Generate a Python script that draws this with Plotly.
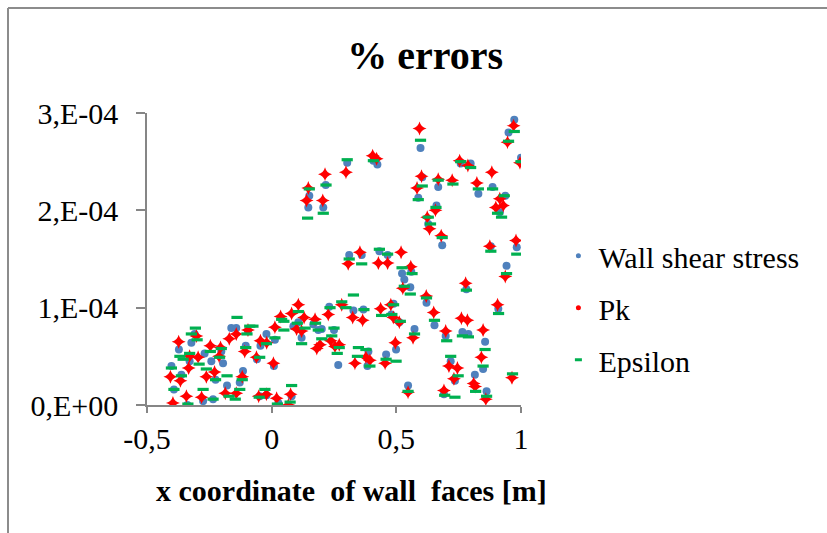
import plotly.graph_objects as go

# ---------------- data ----------------
wss_x = [-0.402, -0.372, -0.392, -0.362, -0.338, -0.329, -0.322, -0.309, -0.269, -0.242, -0.225, -0.275, -0.235,
         -0.202, -0.195, -0.179, -0.162, -0.142, -0.128, -0.115, -0.104, -0.095, -0.059, -0.045, -0.021, -0.021, -0.048,
         0.013, 0.009, 0.027, 0.080, 0.087, 0.107, 0.120, 0.147, 0.151, 0.167, 0.187, 0.201, 0.207, 0.217, 0.231, 0.250,
         0.267, 0.303, 0.311, 0.328, 0.361, 0.368, 0.388, 0.384, 0.408, 0.424, 0.432, 0.459, 0.465,
         0.597, 0.523, 0.532, 0.556, 0.560, 0.489, 0.480, 0.512, 0.499, 0.547, 0.573, 0.604, 0.588, 0.621, 0.628, 0.661,
         0.653, 0.684, 0.668, 0.698, 0.718, 0.735, 0.758, 0.798, 0.765, 0.789, 0.781, 0.829, 0.815, 0.848, 0.856, 0.862,
         0.886, 0.879, 0.909, 0.937, 0.915, 0.942, 0.973, 0.950, 1.000, 0.983, 0.691]
wss_y = [0.40e-4, 0.57e-4, 0.16e-4, 0.31e-4, 0.00e-4, 0.45e-4, 0.64e-4, 0.73e-4, 0.53e-4, 0.45e-4, 0.26e-4, 0.04e-4, 0.06e-4,
         0.55e-4, 0.43e-4, 0.20e-4, 0.79e-4, 0.79e-4, 0.23e-4, 0.35e-4, 0.61e-4, 0.76e-4, 0.47e-4, 0.61e-4, 0.73e-4, 0.10e-4, 0.09e-4,
         0.67e-4, 0.40e-4, 0.02e-4, 0.09e-4, 0.81e-4, 0.85e-4, 0.69e-4, 2.03e-4, 2.15e-4, 0.83e-4, 0.77e-4, 0.78e-4, 2.03e-4, 2.26e-4, 1.01e-4, 0.77e-4,
         0.41e-4, 2.49e-4, 1.54e-4, 0.97e-4, 1.54e-4, 0.98e-4, 0.55e-4, 0.40e-4, 2.51e-4, 2.47e-4, 1.58e-4, 0.52e-4, 1.54e-4,
         2.64e-4, 1.35e-4, 1.29e-4, 1.21e-4, 1.37e-4, 1.04e-4, 0.93e-4, 0.85e-4, 0.57e-4, 0.20e-4, 0.78e-4, 2.34e-4, 2.13e-4, 1.05e-4, 1.86e-4, 2.05e-4,
         0.82e-4, 1.64e-4, 2.24e-4, 0.71e-4, 0.45e-4, 0.25e-4, 2.48e-4, 2.48e-4, 0.75e-4, 0.73e-4, 1.19e-4, 2.17e-4, 0.31e-4, 0.37e-4, 0.65e-4, 0.14e-4,
         2.24e-4, 1.63e-4, 0.99e-4, 2.15e-4, 1.98e-4, 1.43e-4, 2.93e-4, 2.80e-4, 2.54e-4, 1.62e-4, 0.11e-4]

pk_x = [-0.373, -0.406, -0.366, -0.396, -0.342, -0.333, -0.302, -0.295, -0.329, -0.281, -0.262, -0.246, -0.229, -0.211,
        -0.205, -0.186, -0.170, -0.142, -0.142, -0.118, -0.108, -0.095, -0.061, -0.045, -0.052, -0.021,
        0.007, 0.013, 0.036, -0.020, 0.020, 0.067, 0.076, 0.080, 0.107, 0.100, 0.120, 0.130, 0.140, 0.147, 0.174, 0.181,
        0.194, 0.205, 0.214, 0.227, 0.237, 0.254, 0.271, 0.281, 0.298, 0.307, 0.325, 0.334, 0.354, 0.365, 0.378, 0.394,
        0.405, 0.421, 0.428, 0.437, 0.455, 0.465,
        0.593, 0.519, 0.558, 0.526, 0.478, 0.488, 0.512, 0.496, 0.567, 0.547, 0.601, 0.583, 0.620, 0.624, 0.633, 0.650,
        0.657, 0.668, 0.680, 0.698, 0.711, 0.724, 0.731, 0.745, 0.691, 0.754, 0.761, 0.785, 0.778, 0.787, 0.823, 0.810,
        0.816, 0.841, 0.848, 0.859, 0.883, 0.875, 0.906, 0.899, 0.915, 0.929, 0.937, 0.946, 0.970, 0.980, 0.996, 0.964]
pk_y = [0.65e-4, 0.29e-4, 0.25e-4, 0.02e-4, 0.09e-4, 0.38e-4, 0.71e-4, 0.49e-4, 0.50e-4, 0.08e-4, 0.29e-4, 0.61e-4, 0.34e-4, 0.50e-4,
        0.59e-4, 0.12e-4, 0.68e-4, 0.73e-4, 0.12e-4, 0.29e-4, 0.55e-4, 0.77e-4, 0.49e-4, 0.66e-4, 0.09e-4, 0.11e-4,
        0.43e-4, 0.80e-4, 0.91e-4, 0.64e-4, 0.07e-4, 0.00e-4, 0.11e-4, 0.94e-4, 1.03e-4, 0.78e-4, 0.76e-4, 0.90e-4, 2.10e-4, 2.23e-4, 0.88e-4, 0.58e-4,
        0.62e-4, 2.10e-4, 2.37e-4, 0.93e-4, 0.66e-4, 0.60e-4, 0.62e-4, 1.03e-4, 2.39e-4, 1.45e-4, 0.90e-4, 0.43e-4, 1.57e-4, 0.87e-4, 0.49e-4, 0.46e-4,
        2.56e-4, 2.53e-4, 1.46e-4, 0.99e-4, 0.43e-4, 1.46e-4,
        2.84e-4, 1.57e-4, 1.42e-4, 1.20e-4, 1.03e-4, 0.90e-4, 0.85e-4, 0.64e-4, 0.69e-4, 0.13e-4, 2.35e-4, 2.23e-4, 1.12e-4, 1.93e-4, 1.81e-4, 0.95e-4,
        2.00e-4, 2.32e-4, 1.74e-4, 0.76e-4, 0.40e-4, 2.31e-4, 0.27e-4, 0.38e-4, 0.15e-4, 2.51e-4, 0.89e-4, 0.87e-4, 1.25e-4, 2.46e-4, 2.28e-4, 0.22e-4,
        0.19e-4, 0.49e-4, 0.77e-4, 0.06e-4, 2.39e-4, 1.63e-4, 1.03e-4, 2.03e-4, 2.12e-4, 2.05e-4, 1.32e-4, 2.70e-4, 2.87e-4, 1.69e-4, 2.49e-4, 0.28e-4]

eps_x = [-0.402, -0.392, -0.362, -0.368, -0.355, -0.336, -0.322, -0.306, -0.299, -0.329, -0.291, -0.275, -0.262, -0.235,
         -0.225, -0.246, -0.202, -0.209, -0.179, -0.171, -0.146, -0.139, -0.128, -0.118, -0.104, -0.088, -0.075, -0.099,
         -0.048, -0.027, -0.050, -0.021,
         0.013, 0.049, 0.049, 0.023, 0.074, 0.080, 0.040, 0.107, 0.103, 0.120, 0.134, 0.144, 0.151, 0.176, 0.187, 0.201,
         0.207, 0.218, 0.234, 0.241, 0.250, 0.263, 0.271, 0.281, 0.303, 0.311, 0.328, 0.298, 0.348, 0.344, 0.361, 0.370,
         0.378, 0.394, 0.408, 0.432, 0.441, 0.459, 0.465,
         0.597, 0.523, 0.563, 0.532, 0.556, 0.489, 0.482, 0.516, 0.499, 0.573, 0.547, 0.604, 0.588, 0.621, 0.628, 0.637,
         0.659, 0.653, 0.684, 0.668, 0.702, 0.718, 0.727, 0.748, 0.735, 0.694, 0.758, 0.765, 0.789, 0.781, 0.798, 0.829,
         0.818, 0.848, 0.856, 0.862, 0.886, 0.879, 0.910, 0.933, 0.906, 0.922, 0.942, 0.973, 0.950, 1.000, 0.983, 0.966]
eps_y = [0.38e-4, 0.16e-4, 0.30e-4, 0.50e-4, 0.47e-4, 0.01e-4, 0.73e-4, 0.79e-4, 0.67e-4, 0.53e-4, 0.42e-4, 0.16e-4, 0.37e-4, 0.06e-4,
         0.26e-4, 0.55e-4, 0.58e-4, 0.49e-4, 0.30e-4, 0.09e-4, 0.06e-4, 0.90e-4, 0.16e-4, 0.26e-4, 0.59e-4, 0.81e-4, 0.81e-4, 0.73e-4,
         0.49e-4, 0.16e-4, 0.08e-4, 0.63e-4,
         0.69e-4, 0.77e-4, 0.86e-4, 0.01e-4, 0.03e-4, 0.20e-4, 0.88e-4, 0.96e-4, 0.84e-4, 0.63e-4, 0.79e-4, 1.92e-4, 2.22e-4, 0.84e-4, 0.77e-4, 0.68e-4,
         1.97e-4, 2.26e-4, 1.00e-4, 0.71e-4, 0.79e-4, 0.53e-4, 0.59e-4, 1.06e-4, 2.52e-4, 1.50e-4, 1.13e-4, 1.00e-4, 0.59e-4, 0.50e-4, 1.45e-4, 0.98e-4,
         0.57e-4, 0.40e-4, 2.51e-4, 1.60e-4, 0.92e-4, 0.47e-4, 1.55e-4,
         2.72e-4, 1.41e-4, 1.35e-4, 1.22e-4, 1.14e-4, 1.03e-4, 0.93e-4, 0.86e-4, 0.45e-4, 0.73e-4, 0.14e-4, 2.25e-4, 2.11e-4, 1.10e-4, 1.93e-4, 1.86e-4,
         2.03e-4, 0.87e-4, 1.72e-4, 2.31e-4, 0.66e-4, 0.50e-4, 2.27e-4, 0.30e-4, 0.08e-4, 0.10e-4, 2.50e-4, 0.71e-4, 0.70e-4, 1.18e-4, 2.44e-4, 2.22e-4,
         0.14e-4, 0.40e-4, 0.57e-4, 0.09e-4, 2.22e-4, 1.58e-4, 0.94e-4, 2.15e-4, 1.97e-4, 1.93e-4, 1.35e-4, 2.81e-4, 2.71e-4, 2.50e-4, 1.55e-4, 0.32e-4]

series_names = ["Wall shear stress", "Pk", "Epsilon"]
x_tickvals = [-0.5, 0, 0.5, 1]
x_ticktext = ["-0,5", "0", "0,5", "1"]
y_tickvals = [0, 1e-4, 2e-4, 3e-4]
y_ticktext = ["0,E+00", "1,E-04", "2,E-04", "3,E-04"]

BLUE = "#4F81BD"
RED = "#FF0000"
GREEN = "#00B050"
AXIS = "#868686"
FONT = "Liberation Serif"

fig = go.Figure()
fig.add_trace(go.Scatter(x=wss_x, y=wss_y, mode="markers", showlegend=False,
                         marker=dict(symbol="circle", size=8, color=BLUE)))
fig.add_trace(go.Scatter(x=pk_x, y=pk_y, mode="markers", showlegend=False,
                         marker=dict(symbol="star-diamond", size=10, color=RED)))
fig.add_trace(go.Scatter(x=eps_x, y=eps_y, mode="markers", showlegend=False,
                         marker=dict(symbol="line-ew", size=8, color=GREEN,
                                     line=dict(color=GREEN, width=3.2))))

# legend entries (small symbols as in the reference)
fig.add_trace(go.Scatter(x=[None], y=[None], mode="markers", name=series_names[0], legendgroup="a",
                         marker=dict(symbol="circle", size=5, color=BLUE)))
fig.add_trace(go.Scatter(x=[None], y=[None], mode="markers", name=series_names[1], legendgroup="b",
                         marker=dict(symbol="circle", size=5, color=RED)))
fig.add_trace(go.Scatter(x=[None], y=[None], mode="markers", name=series_names[2], legendgroup="c",
                         marker=dict(symbol="line-ew", size=5, color=GREEN, line=dict(color=GREEN, width=3))))

fig.update_layout(
    width=827, height=533,
    margin=dict(l=147, r=306, t=113, b=128),
    paper_bgcolor="white", plot_bgcolor="white",
    font=dict(family=FONT, color="black", size=30),
    title=dict(text="<b>% errors</b>", font=dict(family=FONT, size=40, color="black"),
               x=0.514, xanchor="center", y=1 - 55 / 533, yanchor="middle", xref="container", yref="container"),
    xaxis=dict(range=[-0.5, 1], tickvals=x_tickvals, ticktext=x_ticktext, showline=True, linecolor=AXIS,
               linewidth=1.5, ticks="outside", ticklen=6, tickcolor=AXIS, tickwidth=1.5, showgrid=False,
               zeroline=False, tickfont=dict(family=FONT, size=30, color="black")),
    yaxis=dict(range=[0, 3e-4], tickvals=y_tickvals, ticktext=y_ticktext, showline=True, linecolor=AXIS,
               linewidth=1.5, ticks="outside", ticklen=9, tickcolor=AXIS, tickwidth=1.5, showgrid=False,
               zeroline=False, tickfont=dict(family=FONT, size=30, color="black"), ticklabelstandoff=12),
    legend=dict(x=1.10, xanchor="left", y=0.60, yanchor="top", font=dict(family=FONT, size=30, color="black"),
                tracegroupgap=10, bgcolor="rgba(0,0,0,0)"),
    showlegend=True,
)

fig.add_annotation(text="<b>x coordinate\u00a0 of wall\u00a0 faces [m]</b>", xref="paper", yref="paper",
                   x=0.548, y=(405 - 490) / 292, xanchor="center", yanchor="middle", showarrow=False,
                   font=dict(family=FONT, size=30, color="black"))

# chart frame (left and top edges visible in the reference)
fig.add_shape(type="line", xref="paper", yref="paper", x0=(8 - 147) / 374, x1=(8 - 147) / 374,
              y0=(405 - 540) / 292, y1=(405 - 8) / 292, line=dict(color="#8c8c8c", width=2))
fig.add_shape(type="line", xref="paper", yref="paper", x0=(8 - 147) / 374, x1=(840 - 147) / 374,
              y0=(405 - 8) / 292, y1=(405 - 8) / 292, line=dict(color="#8c8c8c", width=2))

fig.write_html("out.html")
